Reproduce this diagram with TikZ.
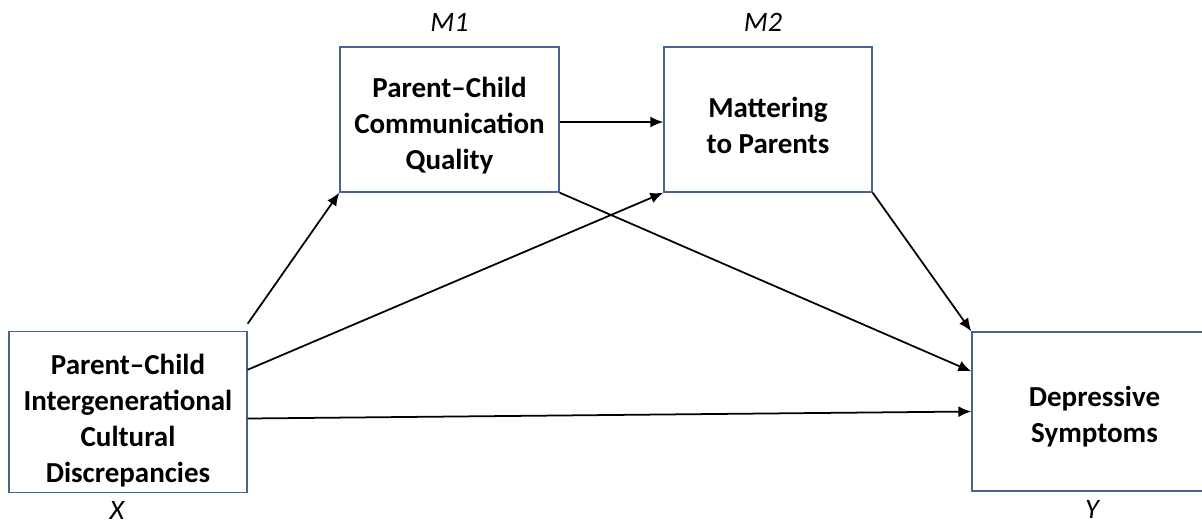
\documentclass[tikz,border=0pt]{standalone}
\usepackage{fontspec}
\setmainfont{Carlito}
\usetikzlibrary{arrows.meta, positioning, calc}
\definecolor{boxblue}{RGB}{70,100,145}
\tikzstyle{var} = [rectangle, draw=boxblue, line width=0.8pt, fill=white, align=center, text centered, font=\fontsize{16.5}{20.5}\selectfont\bfseries]
\tikzstyle{lab} = [inner sep=2pt, font=\fontsize{16}{19}\selectfont\itshape]
\tikzstyle{arrow} = [line width=1pt, -{Latex[length=2.6mm,width=2.2mm]}]

\begin{document}
\begin{tikzpicture}[x=0.02cm, y=-0.02cm]
\useasboundingbox (0,0) rectangle (1202,525);

\node (X) [var, minimum width=4.76cm, minimum height=3.16cm] at (128,412) {\rule{0pt}{21pt}Parent--Child\\Intergenerational\\Cultural\\Discrepancies};
\node (M1) [var, minimum width=4.38cm, minimum height=2.9cm] at (449.5,119.5) {\rule{0pt}{19pt}Parent--Child\\Communication\\Quality};
\node (M2) [var, minimum width=4.16cm, minimum height=2.9cm] at (768,119.5) {\rule{0pt}{18pt}Mattering\\to Parents};
\node (Y) [var, minimum width=4.9cm, minimum height=3.18cm] at (1094.5,411.5) {\rule{0pt}{17pt}Depressive\\Symptoms};

\node (xlab) [lab, below=0.08cm of X, xshift=-0.22cm] {X};
\node (ylab) [lab, below=0.1cm of Y, xshift=-0.05cm] {Y};
\node (m1lab) [lab, above=0.22cm of M1] {M1};
\node (m2lab) [lab, above=0.22cm of M2, xshift=-0.1cm] {M2};

\draw [arrow] ([yshift=0.14cm]X.north east) -- (M1.south west);
\draw [arrow] ($(X.north east)!0.24!(X.south east)$) -- (M2.south west);
\draw [arrow] ($(X.north east)!0.54!(X.south east)$) -- (Y.west);
\draw [arrow] ([yshift=-0.05cm]M1.east) -- ([yshift=-0.05cm]M2.west);
\draw [arrow] (M1.south east) -- ($(Y.north west)!0.25!(Y.south west)$);
\draw [arrow] (M2.south east) -- (Y.north west);

\end{tikzpicture}
\end{document}
